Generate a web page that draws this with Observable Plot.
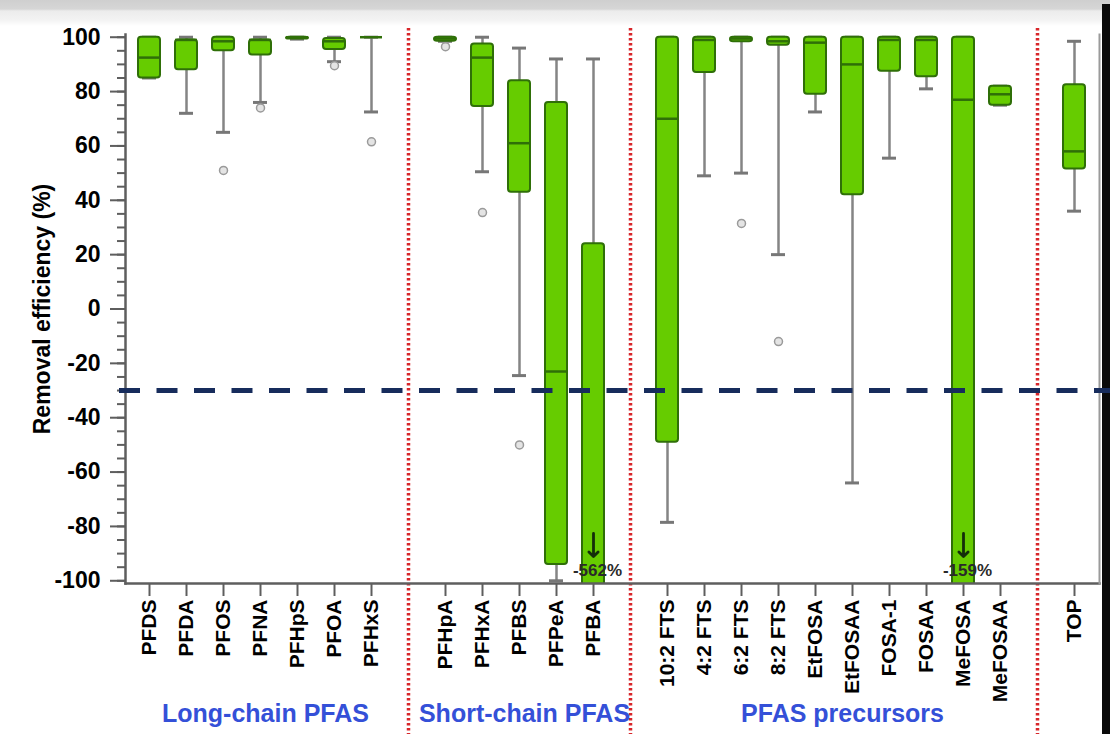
<!DOCTYPE html>
<html>
<head>
<meta charset="utf-8">
<script src="https://cdn.jsdelivr.net/npm/d3@7"></script>
<script src="https://cdn.jsdelivr.net/npm/@observablehq/plot@0.6"></script>
<style>
  html, body { margin: 0; padding: 0; background: #ffffff; }
  #wrap { position: relative; width: 1110px; height: 734px; overflow: hidden; }
  #topband { position: absolute; left: 0; top: 0; width: 1110px; height: 26px;
    background: linear-gradient(to bottom, #cfcfcf 0px, #d6d6d6 9px, #ececec 11px, #f3f3f3 20px, #ffffff 26px); }
  #rightbar { position: absolute; left: 1102px; top: 4px; width: 8px; height: 730px; background: #0a0a0a; }
  #chart { position: absolute; left: 0; top: 0; }
</style>
</head>
<body>
<div id="wrap">
  <div id="topband"></div>
  <div id="rightbar"></div>
  <div id="chart"></div>
</div>
<script>
// ---- categories ----
const longChain = ["PFDS", "PFDA", "PFOS", "PFNA", "PFHpS", "PFOA", "PFHxS"];
const shortChain = ["PFHpA", "PFHxA", "PFBS", "PFPeA", "PFBA"];
const precursors = ["10:2 FTS", "4:2 FTS", "6:2 FTS", "8:2 FTS", "EtFOSA", "EtFOSAA", "FOSA-1", "FOSAA", "MeFOSA", "MeFOSAA"];
const totalGroup = ["TOP"];
const groupSeparators = ["gap1", "gap2", "gap3"];

const compounds = [...longChain, ...shortChain, ...precursors, ...totalGroup];

// ---- box-plot statistics (removal efficiency, %) ----
const whiskerLow  = [85,  72,  65,  76, 99.3, 91,  72.5, 98.5, 50.5, -24.5, -100, -562, -78.5, 49, 50,  20,  72.5, -64, 55.5, 81, -159, 75,  36];
const q1          = [85,  88,  95,  93.5, 99.3, 95.5, 100, 98.5, 74.5, 43,  -94, -562, -49,  87, 98.3, 97,  79,  42,  87.5, 85.5, -159, 75,  51.5];
const median      = [92.5, 99, 98.5, 99, 100, 98.5, 100, 99.5, 92.5, 61,  -23, null, 70,   99, 99.5, 98.5, 98, 90,  99,  99,  77,   79,  58];
const q3          = [100, 99,  100, 99,  100, 99.5, 100, 100,  97.5, 84,  76,  24,  100,  100, 100, 100, 100, 100, 100, 100, 100,  82,  82.5];
const whiskerHigh = [100, 100, 100, 100, 100, 100, 100, 100,  100,  96,  92,  92,  100,  100, 100, 100, 100, 100, 100, 100, 100,  82,  98.5];

// outliers
const outlierCompound = ["PFOS", "PFNA", "PFOA", "PFHxS", "PFHpA", "PFHxA", "PFBS", "6:2 FTS", "8:2 FTS"];
const outlierValue    = [51,     74,     89.5,   61.5,    96.5,    35.5,    -50,    31.5,      -12];

// truncated minima beyond the axis
const truncCompound = ["PFBA", "MeFOSA"];
const truncLabel    = ["-562%", "-159%"];

// group labels
const groupNames  = ["Long-chain PFAS", "Short-chain PFAS", "PFAS precursors"];
const groupAnchor = ["PFNA", "PFBS", "EtFOSAA"];

// reference threshold
const thresholdValue = [-30];

// y ticks
const yTicks = [-100, -80, -60, -40, -20, 0, 20, 40, 60, 80, 100];
const yMinorTicks = d3.range(-100, 101, 5);

const xDomain = [...longChain, groupSeparators[0], ...shortChain, groupSeparators[1], ...precursors, groupSeparators[2], ...totalGroup];

const stats = compounds.map((c, i) => ({
  compound: c, lo: whiskerLow[i], q1: q1[i], med: median[i], q3: q3[i], hi: whiskerHigh[i]
}));
const outliers = outlierCompound.map((c, i) => ({compound: c, value: outlierValue[i]}));
const truncs = truncCompound.map((c, i) => ({compound: c, label: truncLabel[i]}));
const groups = groupNames.map((g, i) => ({name: g, anchor: groupAnchor[i]}));

const FONT = "'Liberation Sans', Arial, Helvetica, sans-serif";
const GREEN = "#66cc00";
const DKGREEN = "#2f6f08";
const GREY = "#858585";
const AXIS = "#5e5e5e";

const plot = Plot.plot({
  width: 1110,
  height: 734,
  marginLeft: 125,
  marginRight: 11,
  marginTop: 34,
  marginBottom: 151,
  style: {fontFamily: FONT, background: "transparent", color: "#000"},
  x: {type: "band", domain: xDomain, paddingInner: 0.4, paddingOuter: 0.15, axis: null},
  y: {domain: [-101, 101], axis: null},
  marks: [
    // group separators (red dotted)
    Plot.ruleX(groupSeparators, {x: d => d, stroke: "#d8262a", strokeWidth: 3.5, strokeDasharray: "2.5,2.5", insetTop: -6, insetBottom: -151}),
    // whiskers
    Plot.ruleX(stats, {x: "compound", y1: "lo", y2: "hi", stroke: GREY, strokeWidth: 2.5, clip: true}),
    Plot.tickY(stats, {x: "compound", y: "lo", stroke: "#777", strokeWidth: 3, insetLeft: 4, insetRight: 4, clip: true}),
    Plot.tickY(stats, {x: "compound", y: "hi", stroke: "#777", strokeWidth: 3, insetLeft: 4, insetRight: 4, clip: true}),
    // outliers
    Plot.dot(outliers, {x: "compound", y: "value", r: 4, stroke: "#9a9a9a", fill: "#e4e4e4", strokeWidth: 1.5}),
    // boxes
    Plot.barY(stats, {x: "compound", y1: "q1", y2: "q3", fill: GREEN, stroke: DKGREEN, strokeWidth: 2, rx: 3, clip: true}),
    Plot.tickY(stats, {x: "compound", y: "med", stroke: DKGREEN, strokeWidth: 2.5, clip: true}),
    // axes
    Plot.axisY({ticks: yMinorTicks, tickSize: 8, tickFormat: () => "", stroke: AXIS, strokeWidth: 2, strokeOpacity: 1, label: null}),
    Plot.axisY({ticks: yTicks, tickSize: 15, tickPadding: 10, tickFormat: d => String(d), fontSize: 23, fontWeight: "bold", stroke: AXIS, strokeWidth: 2, strokeOpacity: 1,
      label: "Removal efficiency (%)", labelAnchor: "center", labelOffset: 92, labelArrow: "none"}),
    Plot.axisX({ticks: compounds, tickSize: 13, tickRotate: -90, tickPadding: 3, fontSize: 21, fontWeight: "bold", stroke: AXIS, strokeWidth: 2, strokeOpacity: 1, label: null}),
    Plot.frame({anchor: "left", stroke: AXIS, strokeWidth: 2.5}),
    Plot.frame({anchor: "bottom", stroke: AXIS, strokeWidth: 2.5}),
    Plot.frame({anchor: "right", stroke: "#9a9a9a", strokeWidth: 2}),
    // threshold
    Plot.ruleY(thresholdValue, {y: d => d, stroke: "#172c5c", strokeWidth: 5, strokeDasharray: "21,16.5", insetLeft: -6, insetRight: -11, ariaLabel: "threshold"}),
    // truncated annotations
    Plot.vector(truncs, {x: "compound", frameAnchor: "bottom", dy: -50, length: 23, rotate: 180, anchor: "start", shape: "arrow", stroke: "#142e0a", strokeWidth: 2.8}),
    Plot.tickY(truncs, {x: "compound", frameAnchor: "bottom", dy: -43, insetLeft: 7, insetRight: 7, stroke: "#142e0a", strokeWidth: 2}),
    Plot.text(truncs, {x: "compound", text: "label", frameAnchor: "bottom", dy: -8, dx: 4, fontSize: 17, fontWeight: "bold", fill: "#2a2a2a"}),
    // group labels
    Plot.text(groups.filter(g => g.anchor !== "EtFOSAA"), {x: "anchor", text: "name", frameAnchor: "bottom", dy: 138, dx: 5, fontSize: 25, fontWeight: "bold", fill: "#3450d8"}),
    Plot.text(groups.filter(g => g.anchor === "EtFOSAA"), {x: "anchor", text: "name", frameAnchor: "bottom", dy: 138, dx: -10, fontSize: 25, fontWeight: "bold", fill: "#3450d8"})
  ]
});

const th = plot.querySelector('[aria-label="threshold"]');
if (th) th.style.filter = "drop-shadow(12px 3px 3px rgba(0,0,0,0.32))";
document.getElementById("chart").appendChild(plot);
</script>
</body>
</html>
